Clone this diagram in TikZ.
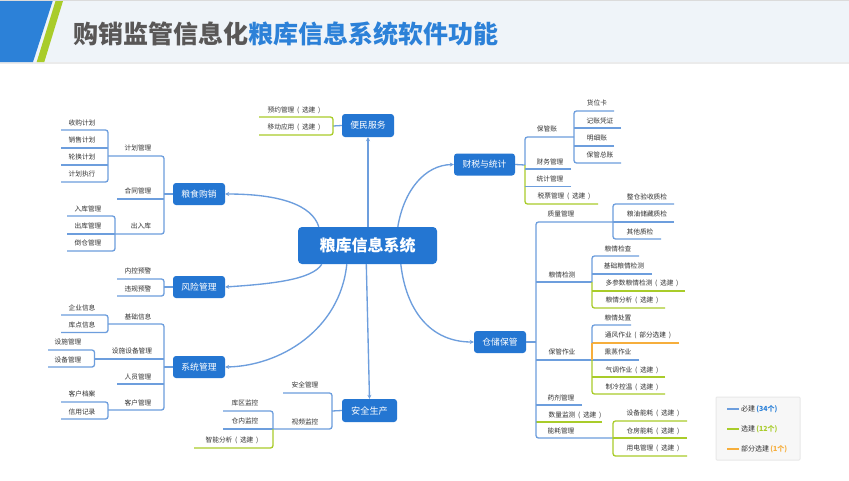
\documentclass[tikz,border=0pt]{standalone}
\usepackage{fontspec}
\setmainfont{Noto Sans CJK SC}
\usetikzlibrary{arrows.meta,calc}
\definecolor{hubblue}{HTML}{2476D2}
\definecolor{lineblue}{HTML}{6D9EDD}
\definecolor{linegreen}{HTML}{A9CC2A}
\definecolor{lineorange}{HTML}{F6AE3C}
\definecolor{titlegray}{HTML}{595757}
\definecolor{titleblue}{HTML}{2C81D8}
\definecolor{headbg}{HTML}{EFF4F9}
\definecolor{leaftext}{HTML}{333333}
\tikzset{
  hub/.style={fill=hubblue,draw=none,rounded corners=3pt,text=white,inner sep=0pt,font=\fontsize{8.8}{10}\selectfont},
  leaftxt/.style={inner sep=0pt,text=leaftext,font=\fontsize{6.7}{8}\selectfont},
  bl/.style={draw=lineblue,line width=1.3pt},
  gr/.style={draw=linegreen,line width=1.3pt},
  og/.style={draw=lineorange,line width=1.3pt},
  nol/.style={draw=none},
  spineb/.style={bl,rounded corners=2.5pt},
  spineg/.style={gr,rounded corners=2.5pt},
  mainlink/.style={draw=lineblue,line width=1.35pt},
  mainarrow/.style={mainlink,-{Stealth[length=4pt,width=4pt]}},
  legendtxt/.style={inner sep=0pt,anchor=west,text=leaftext,font=\fontsize{7}{8}\selectfont},
}
% \leaf{line style}{id}{text}{cx}{cy}{far x}{line y}{near x}
\newcommand\leaf[8]{%
  \node[leaftxt] (#2) at (#4,#5) {#3};
  \coordinate (#2-f) at (#6,#7);
  \coordinate (#2-n) at (#8,#7);
  \path[#1] (#2-f) -- (#2-n);
}
\newcommand\paren[1]{\hspace{.4em}(\hspace{.4em}#1\hspace{.4em})}
\begin{document}
\begin{tikzpicture}[x=1pt,y=-1pt]
\useasboundingbox (0,0) rectangle (849,480);
\fill[white] (0,0) rectangle (849,480);
% header
\fill[headbg] (0,1) rectangle (849,62);
\fill[black!14] (0,0) rectangle (849,1);
\fill[black!8] (0,62) rectangle (849,63.5);
\fill[titleblue] (0,1) -- (52.7,1) -- (33,62) -- (0,62) -- cycle;
\fill[linegreen] (55.5,1) -- (63,1) -- (44.3,62) -- (36.7,62) -- cycle;
\node[anchor=west,inner sep=0pt,font=\fontsize{25}{28}\bfseries\selectfont] (title) at (73,34)
  {\textcolor{titlegray}{购销监管信息化}\textcolor{titleblue}{粮库信息系统软件功能}};

% hubs
\node[hub,rounded corners=4pt,minimum width=139pt,minimum height=37pt,font=\fontsize{16}{18}\bfseries\selectfont] (center) at (367.5,245.5) {粮库信息系统};
\node[hub,minimum width=52pt,minimum height=23pt] (service) at (368,125.5) {便民服务};
\node[hub,minimum width=52pt,minimum height=22pt] (grain) at (199,194) {粮食购销};
\node[hub,minimum width=52pt,minimum height=22pt] (risk) at (199,287) {风险管理};
\node[hub,minimum width=52pt,minimum height=22pt] (system) at (199,367) {系统管理};
\node[hub,minimum width=55pt,minimum height=23pt,font=\fontsize{9.2}{10}\selectfont] (safety) at (369.5,410.5) {安全生产};
\node[hub,minimum width=61pt,minimum height=22pt] (tax) at (484.5,164.5) {财税与统计};
\node[hub,minimum width=52pt,minimum height=22pt] (ware) at (500,342) {仓储保管};

% main links
\draw[mainarrow] ([xshift=21pt]center.north west) .. controls (312,205) and (280,194) .. (grain.east);
\draw[mainarrow] ([xshift=24pt]center.south west) .. controls (312,280) and (270,284) .. (risk.east);
\draw[mainarrow] ([xshift=49pt]center.south west) .. controls (340,330) and (280,366) .. (system.east);
\draw[mainarrow] (center.north) ++(0.5pt,0) -- (service.south);
\draw[mainarrow] ([xshift=68.5pt]center.south west) -- (safety.north);
\draw[mainarrow] ([xshift=100pt]center.north west) .. controls (404,190) and (425,165) .. (tax.west);
\draw[mainarrow] ([xshift=103pt]center.south west) .. controls (406,310) and (430,342) .. (ware.west);

% grain purchase
\coordinate (grainJ) at (164,194);
\draw[bl] (grain.west) -- (grainJ);
\leaf{nol}{plan}{计划管理}{138}{148}{108}{156}{164}
\leaf{bl}{contract}{合同管理}{138}{191}{117}{199}{164}
\leaf{nol}{inout}{出入库}{141}{226}{115}{234}{164}
\draw[spineb] (plan-f) -| (grainJ) |- (inout-f);
\leaf{nol}{buy}{收购计划}{82}{122.5}{61}{130}{108}
\leaf{bl}{sell}{销售计划}{82}{140}{61}{148}{108}
\leaf{bl}{rotate}{轮换计划}{82}{157}{61}{165}{108}
\leaf{nol}{exec}{计划执行}{82}{174}{61}{182}{108}
\draw[spineb] (buy-f) -| (plan-f) |- (exec-f);
\leaf{nol}{instock}{入库管理}{88}{209}{67}{216}{115}
\leaf{bl}{outstock}{出库管理}{88}{226}{67}{234}{115}
\leaf{nol}{shift}{倒仓管理}{88}{243}{67}{251}{115}
\draw[spineb] (instock-f) -| (inout-f) |- (shift-f);

% risk
\coordinate (riskJ) at (164,287);
\draw[bl] (risk.west) -- (riskJ);
\leaf{nol}{ctrl}{内控预警}{138}{271}{117}{279}{164}
\leaf{nol}{viol}{违规预警}{138}{288.5}{117}{296}{164}
\draw[spineb] (ctrl-f) -| (riskJ) |- (viol-f);

% system
\coordinate (sysJ) at (164,367);
\draw[bl] (system.west) -- (sysJ);
\leaf{nol}{basic}{基础信息}{138}{316.5}{108}{324}{164}
\leaf{bl}{facil}{设施设备管理}{132}{351}{94.5}{359}{164}
\leaf{bl}{staff}{人员管理}{138}{377}{117}{384}{164}
\leaf{nol}{cust}{客户管理}{138}{403}{108}{410}{164}
\draw[spineb] (basic-f) -| (sysJ) |- (cust-f);
\leaf{nol}{corp}{企业信息}{82}{308}{61}{315}{108}
\leaf{nol}{depot}{库点信息}{82}{325}{61}{332.5}{108}
\draw[spineb] (corp-f) -| (basic-f) |- (depot-f);
\leaf{nol}{fac}{设施管理}{68}{342}{48}{350}{94.5}
\leaf{nol}{equip}{设备管理}{68}{360}{48}{367}{94.5}
\draw[spineb] (fac-f) -| (facil-f) |- (equip-f);
\leaf{nol}{archive}{客户档案}{82}{394}{61}{402}{108}
\leaf{nol}{credit}{信用记录}{82}{412}{61}{419}{108}
\draw[spineb] (archive-f) -| (cust-f) |- (credit-f);

% service
\coordinate (svcJ) at (333,126);
\draw[bl] (service.west) -- (svcJ);
\leaf{nol}{book}{预约管理\paren{选建}}{294}{110}{259}{117}{333}
\leaf{nol}{mobile}{移动应用\paren{选建}}{294}{127}{259}{135}{333}
\draw[spineg] (book-f) -| (svcJ) |- (mobile-f);

% safety
\coordinate (safeJ) at (332,411);
\draw[bl] (safety.west) -- (safeJ);
\leaf{nol}{safemg}{安全管理}{305}{385}{283}{393}{332}
\leaf{nol}{video}{视频监控}{305}{422}{273}{429}{332}
\draw[spineb] (safemg-f) -| (safeJ) |- (video-f);
\leaf{nol}{zone}{库区监控}{245}{403}{223}{411}{273}
\leaf{bl}{inner}{仓内监控}{245}{421}{223}{429}{273}
\leaf{nol}{smart}{智能分析\paren{选建}}{232}{440}{194}{448}{273}
\draw[spineb] (zone-f) -| (inner-n);
\draw[spineg] (smart-f) -| (inner-n);

% tax
\coordinate (taxJ) at (525,165);
\draw[bl] (tax.east) -- (taxJ);
\leaf{nol}{keep}{保管账}{547}{129}{574}{137}{525}
\leaf{nol}{fin}{财务管理}{550}{162}{571}{169}{525}
\leaf{nol}{stat}{统计管理}{550}{179}{571}{186.5}{525}
\leaf{nol}{bill}{税票管理\paren{选建}}{564}{196}{598}{204}{525}
\draw[spineg] (bill-f) -| (taxJ);
\draw[spineb] (keep-f) -| (taxJ);
\draw[bl] (fin-f) -- (fin-n);
\draw[bl] (stat-f) -- (stat-n);
\leaf{nol}{card}{货位卡}{597}{103}{614}{111}{574}
\leaf{bl}{voucher}{记账凭证}{600}{121}{621}{128}{574}
\leaf{bl}{detail}{明细账}{597}{138}{614}{146}{574}
\leaf{nol}{ledger}{保管总账}{600}{155}{621}{163}{574}
\draw[spineb] (card-f) -| (keep-f) |- (ledger-f);

% warehouse
\coordinate (wareJ) at (536,342);
\draw[bl] (ware.east) -- (wareJ);
\leaf{nol}{qual}{质量管理}{561}{214}{613}{222}{536}
\leaf{bl}{cond}{粮情检测}{562}{275}{592}{282}{536}
\leaf{bl}{store}{保管作业}{562}{352}{592}{360}{536}
\leaf{bl}{drug}{药剂管理}{561}{398}{582}{405}{536}
\leaf{gr}{count}{数量监测\paren{选建}}{575}{415}{602}{422}{536}
\leaf{nol}{energy}{能耗管理}{561}{431}{613}{438}{536}
\draw[spineb] (qual-f) -| (wareJ) |- (energy-f);
\leaf{nol}{whole}{整仓验收质检}{647}{197}{674}{204}{613}
\leaf{bl}{random}{粮油储藏质检}{647}{214}{674}{222}{613}
\leaf{nol}{other}{其他质检}{640}{232}{661}{239}{613}
\draw[spineb] (whole-f) -| (qual-f) |- (other-f);
\leaf{nol}{check}{粮情检查}{618}{249}{639}{256}{592}
\leaf{bl}{basecond}{基础粮情检测}{624}{266}{652}{274}{592}
\leaf{gr}{multi}{多参数粮情检测\paren{选建}}{642}{283}{685}{291}{592}
\leaf{nol}{analysis}{粮情分析\paren{选建}}{632}{300}{665}{308}{592}
\draw[spineb] (check-f) -| (cond-f);
\draw[spineg] (analysis-f) -| (cond-f);
\leaf{nol}{dispose}{粮情处置}{618}{318}{631}{325}{592}
\leaf{og}{vent}{通风作业\paren{部分选建}}{638}{335}{679}{343}{592}
\leaf{bl}{fume}{熏蒸作业}{618}{352}{639}{360}{592}
\leaf{gr}{gas}{气调作业\paren{选建}}{632}{370}{665}{377}{592}
\leaf{nol}{cool}{制冷控温\paren{选建}}{632}{387}{665}{394}{592}
\draw[spineb] (dispose-f) -| (vent-n);
\draw[og] (vent-n) -- (store-f);
\draw[spineg] (cool-f) -| (store-f);
\leaf{nol}{devuse}{设备能耗\paren{选建}}{653}{413}{687}{421}{613}
\leaf{gr}{hseuse}{仓房能耗\paren{选建}}{653}{431}{687}{438}{613}
\leaf{nol}{power}{用电管理\paren{选建}}{653}{448}{687}{456}{613}
\draw[spineg] (devuse-f) -| (energy-f) |- (power-f);

% legend
\node[draw=black!9,fill=black!3,line width=1pt,rounded corners=1pt,minimum width=84pt,minimum height=63pt,inner sep=0pt] (legend) at (758,428.5) {};
\node[legendtxt] (lgA) at (741,409) {必建\textcolor{titleblue}{\bfseries\,(34个)}};
\node[legendtxt] (lgB) at (741,429) {选建\textcolor{linegreen}{\bfseries\,(12个)}};
\node[legendtxt] (lgC) at (741,449) {部分选建\textcolor{lineorange}{\bfseries\,(1个)}};
\draw[bl] ([xshift=-14pt]lgA.west) -- ([xshift=-2pt]lgA.west);
\draw[gr] ([xshift=-14pt]lgB.west) -- ([xshift=-2pt]lgB.west);
\draw[og] ([xshift=-14pt]lgC.west) -- ([xshift=-2pt]lgC.west);
\end{tikzpicture}
\end{document}
